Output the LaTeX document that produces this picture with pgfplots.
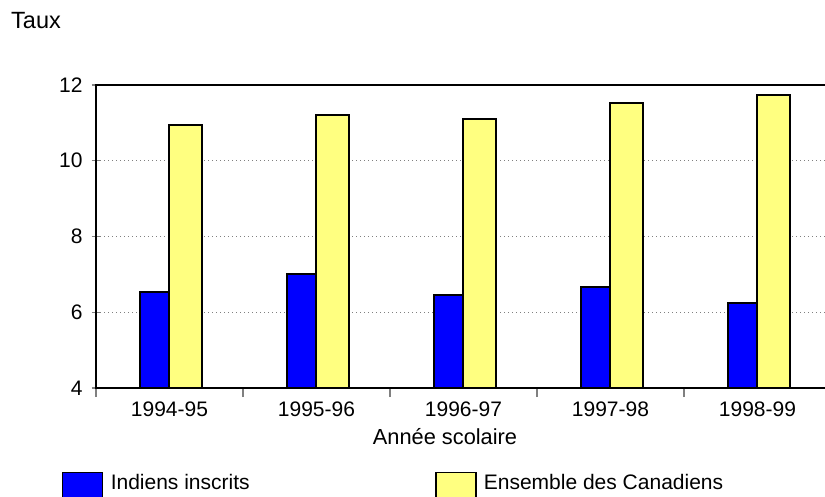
\documentclass[border=0pt]{standalone}
\usepackage{fontspec}
\setmainfont{Liberation Sans}
\usepackage{pgfplots}
\pgfplotsset{compat=1.18}
\definecolor{barblue}{RGB}{0,0,255}
\definecolor{baryellow}{RGB}{255,255,128}
\newcommand{\bigf}{\fontsize{21}{25}\selectfont}
\begin{document}
\begin{tikzpicture}
\useasboundingbox (0,0) rectangle (825pt,-496pt);
\node[anchor=base west, inner sep=0pt, font=\fontsize{23.5}{28}\selectfont] at (11pt,-28.3pt) {Taux};
\node[anchor=base, inner sep=0pt, font=\fontsize{21.8}{26}\selectfont] at (445pt,-444pt) {Année scolaire};
\begin{axis}[
  at={(96pt,-388pt)}, anchor=south west,
  scale only axis, width=735pt, height=303pt,
  xmin=-0.5, xmax=4.5, ymin=4, ymax=12,
  axis line style={line width=1.8pt},
  ytick={4,6,8,10,12}, ytick pos=left,
  xtick={-0.5,0.5,1.5,2.5,3.5}, xticklabels={}, xtick pos=bottom,
  extra x ticks={0,1,2,3,4},
  extra x tick labels={1994-95,1995-96,1996-97,1997-98,1998-99},
  extra x tick style={major tick length=0pt},
  tick align=center, major tick length=9pt,
  tick style={gray, line width=1.2pt},
  ymajorgrids,
  grid style={gray, line width=1.4pt, dash pattern=on 1.4pt off 2.6pt},
  /pgf/number format/assume math mode=true,
  ticklabel style={font=\bigf},
  xticklabel style={anchor=north, inner sep=0pt, yshift=-13.5pt},
  yticklabel style={anchor=east, inner sep=0pt, xshift=-8.7pt},
  ybar, 
  legend columns=2,
  legend style={draw=none, fill=none, inner sep=0pt, outer sep=0pt,
    at={(axis description cs:-0.0467,-0.2762)}, anchor=north west,
    nodes={inner sep=0pt, font=\bigf},
    /tikz/every even column/.style={column sep=0pt}},
  legend cell align=left,
  legend image code/.code={\draw[#1, line width=1.8pt] (0pt,-30pt) rectangle (40pt,9.6pt); \path (47.3pt,0pt);},
]
\addplot[draw=black, fill=barblue, line width=1.8pt, bar width=0.197, bar shift=-0.102]
  coordinates {(0,6.53) (1,7.00) (2,6.46) (3,6.67) (4,6.25)};
\addlegendentry{\makebox[324pt][l]{Indiens inscrits}}
\addplot[draw=black, fill=baryellow, line width=1.8pt, bar width=0.2245, bar shift=0.109]
  coordinates {(0,10.95) (1,11.21) (2,11.10) (3,11.52) (4,11.74)};
\addlegendentry{Ensemble des Canadiens}
\draw[line width=1.8pt] (rel axis cs:0,0) -- (rel axis cs:1,0);
\end{axis}
\end{tikzpicture}
\end{document}
